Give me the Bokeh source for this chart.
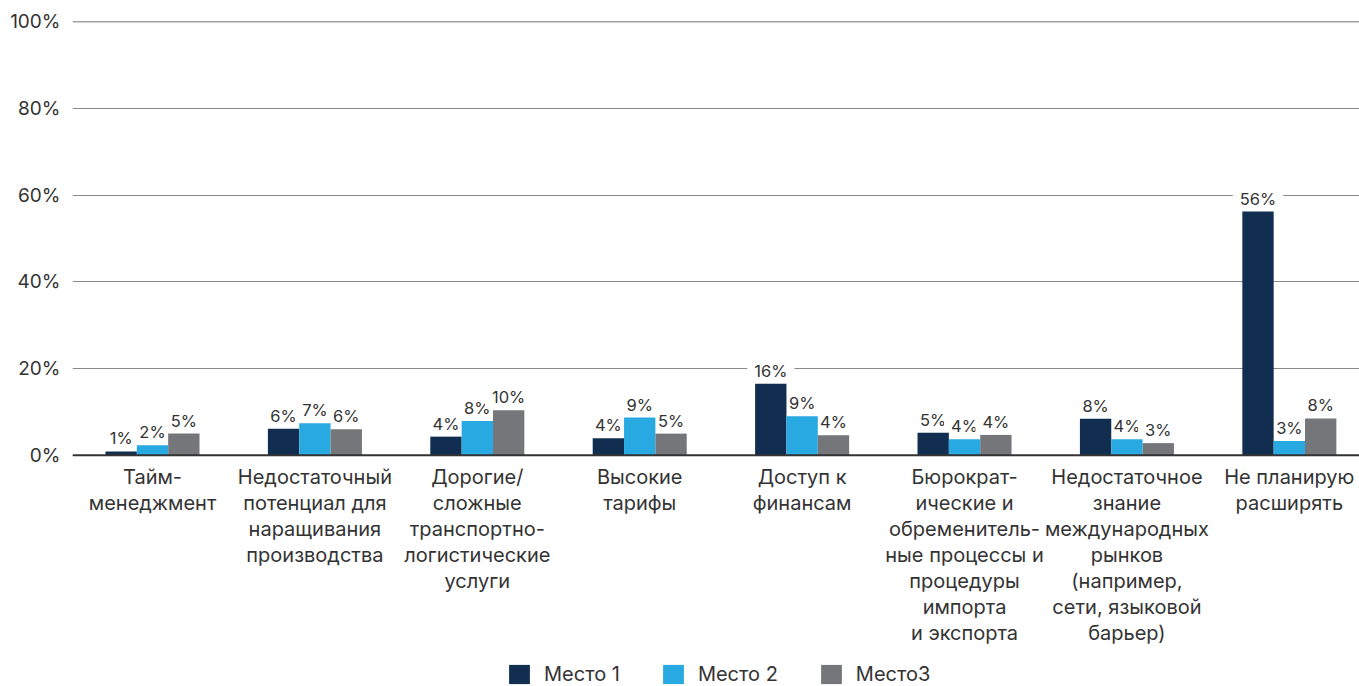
from bokeh.plotting import figure
from bokeh.models import (Range1d, FixedTicker, Span, Legend, LegendItem,
                          ColumnDataSource)
from bokeh.embed import file_html
from bokeh.resources import INLINE
from bokeh.core.properties import value

categories = [
    "Тайм-\nменеджмент",
    "Недостаточный\nпотенциал для\nнаращивания\nпроизводства",
    "Дорогие/\nсложные\nтранспортно-\nлогистические\nуслуги",
    "Высокие\nтарифы",
    "Доступ к\nфинансам",
    "Бюрократ-\nические и\nобременитель-\nные процессы и\nпроцедуры\nимпорта\nи экспорта",
    "Недостаточное\nзнание\nмеждународных\nрынков\n(например,\nсети, языковой\nбарьер)",
    "Не планирую\nрасширять",
]
series_names = ["Место 1", "Место 2", "Место3"]
mesto1 = [0.9, 6.1, 4.3, 3.9, 16.5, 5.2, 8.4, 56.2]
mesto2 = [2.3, 7.4, 7.9, 8.7, 9.0, 3.7, 3.7, 3.3]
mesto3 = [5.0, 6.0, 10.4, 5.0, 4.6, 4.7, 2.8, 8.5]
labels1 = ["1%", "6%", "4%", "4%", "16%", "5%", "8%", "56%"]
labels2 = ["2%", "7%", "8%", "9%", "9%", "4%", "4%", "3%"]
labels3 = ["5%", "6%", "10%", "5%", "4%", "4%", "3%", "8%"]
y_ticks = [0, 20, 40, 60, 80, 100]
colors = ["#112e51", "#29a9e1", "#75767a"]

FONT = "Inter"
TXT = "#333333"

p = figure(width=1359, height=686, output_backend="svg", toolbar_location=None,
           x_range=Range1d(-0.4926, 7.432), y_range=Range1d(-53.3, 100),
           min_border_top=21, min_border_left=72, min_border_right=0,
           min_border_bottom=0)
p.outline_line_color = None
p.xgrid.grid_line_color = None
p.ygrid.grid_line_color = "#8a8a8a"
p.ygrid.grid_line_width = 1.2
p.ygrid.ticker = FixedTicker(ticks=y_ticks)
p.xaxis.visible = False

xs = list(range(len(categories)))
w = 0.193
all_series = [(mesto1, labels1), (mesto2, labels2), (mesto3, labels3)]

# value labels first (their white background masks gridlines only)
for k, (vals, labs) in enumerate(all_series):
    off = (k - 1) * w
    src = ColumnDataSource(dict(x=[x + off for x in xs], y=vals, lab=labs))
    p.text(x="x", y="y", text="lab", source=src, text_align="center",
           text_baseline="bottom", y_offset=-3, text_font=value(FONT),
           text_font_size="16.5px", text_color=TXT,
           background_fill_color="white",
           padding=dict(left=7, right=7, top=0, bottom=0))

items = []
for k, (vals, labs) in enumerate(all_series):
    off = (k - 1) * w
    src = ColumnDataSource(dict(x=[x + off for x in xs], top=vals))
    r = p.vbar(x="x", top="top", width=w, bottom=0, source=src,
               fill_color=colors[k], line_color=None)
    items.append(LegendItem(label=series_names[k], renderers=[r]))

p.add_layout(Span(location=0, dimension="width", line_color="#333333", line_width=2))
p.add_layout(Span(location=100, dimension="width", line_color="#444444", line_width=1.5))

# category labels below the baseline
csrc = ColumnDataSource(dict(x=xs, y=[0] * len(xs), lab=categories))
p.text(x="x", y="y", text="lab", source=csrc, text_align="center",
       text_baseline="top", y_offset=10, text_font=value(FONT),
       text_font_size="20px", text_color=TXT, text_line_height=1.08)

p.yaxis.ticker = FixedTicker(ticks=y_ticks)
p.yaxis.major_label_overrides = {t: f"{t}%" for t in y_ticks}
p.yaxis.axis_line_color = None
p.yaxis.major_tick_line_color = None
p.yaxis.minor_tick_line_color = None
p.yaxis.major_tick_out = 0
p.yaxis.major_tick_in = 0
p.yaxis.major_label_standoff = 12
p.yaxis.major_label_text_font = FONT
p.yaxis.major_label_text_font_size = "19px"
p.yaxis.major_label_text_color = TXT

legend = Legend(items=items, orientation="horizontal", location=(434, 0),
                glyph_width=26, glyph_height=24, label_standoff=12, spacing=40,
                label_text_font=FONT, label_text_font_size="20px",
                label_text_color=TXT, border_line_color=None, margin=0,
                padding=0, background_fill_alpha=0)
p.add_layout(legend)

open("out.html", "w").write(file_html(p, INLINE))
